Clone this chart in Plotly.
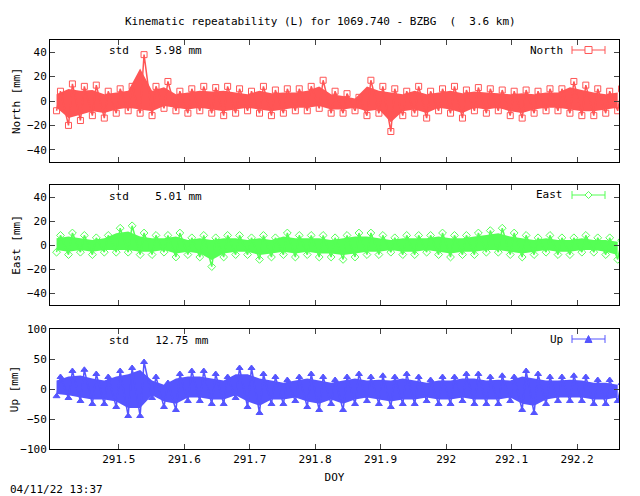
import numpy as np
import plotly.graph_objects as go

# envelope of each time bin (low / high), mm
north_hi = [8, 14, 12, 13, 8, 10, 12, 38, 12, 16, 8, 10, 12, 11, 12, 10, 8, 12, 9, 10, 10, 12, 17, 8,
            6, 3, 17, 12, 10, 8, 12, 8, 10, 12, 9, 11, 10, 9, 8, 9, 8, 10, 10, 16, 13, 10, 8, 10]
north_lo = [-8, -20, -16, -12, -14, -10, -8, -10, -12, -6, -8, -10, -8, -10, -12, -10, -8, -10, -12, -10, -8, -8, -6, -10,
            -10, -8, -12, -10, -25, -12, -10, -14, -8, -10, -14, -8, -10, -8, -12, -14, -10, -8, -8, -10, -12, -12, -10, -8]
east_hi = [8, 10, 8, 6, 8, 14, 16, 10, 8, 8, 10, 6, 8, 6, 8, 8, 6, 8, 6, 10, 8, 8, 8, 6,
           8, 10, 10, 8, 6, 8, 8, 8, 10, 8, 8, 10, 12, 14, 10, 8, 6, 8, 6, 6, 8, 6, 6, 4]
east_lo = [-6, -8, -6, -8, -6, -6, -6, -8, -8, -6, -10, -8, -10, -18, -10, -8, -8, -12, -10, -8, -10, -8, -10, -10,
           -12, -10, -8, -8, -6, -8, -8, -6, -8, -10, -8, -8, -6, -6, -8, -10, -8, -6, -8, -8, -6, -6, -8, -12]
up_hi = [20, 30, 32, 25, 20, 30, 35, 45, 20, 10, 25, 30, 30, 25, 20, 35, 35, 25, 20, 15, 20, 25, 20, 15,
         20, 25, 20, 22, 20, 25, 20, 15, 20, 20, 25, 25, 20, 22, 20, 30, 25, 20, 20, 22, 20, 15, 15, 10]
up_lo = [-12, -15, -20, -25, -25, -30, -45, -45, -15, -30, -35, -20, -20, -25, -25, -15, -30, -40, -25, -25, -20, -30, -35, -25,
         -35, -25, -20, -25, -30, -25, -25, -20, -25, -25, -20, -25, -25, -25, -20, -35, -40, -25, -20, -20, -20, -25, -25, -20]

doy = np.linspace(291.405, 292.262, len(north_hi))
x_ticks = [291.5, 291.6, 291.7, 291.8, 291.9, 292.0, 292.1, 292.2]
x_labels = ["291.5", "291.6", "291.7", "291.8", "291.9", "292", "292.1", "292.2"]

FONT = "DejaVu Sans Mono"
W, H, OFF = 640, 496, 8  # the page body adds an 8px margin


def px(x):
    return (x - OFF) / W


def py(y):
    return 1 - (y - OFF) / H


def zigzag(lo, hi):
    xs, ys = [], []
    for i in range(len(doy)):
        xs += [doy[i], doy[i] + 0.006]
        ys += [lo[i], hi[i]]
    return xs, ys


panels = [
    ("North", north_lo, north_hi, "#ff5555", "square-open", "5.98", (40, 162), [-50, 50], 20),
    ("East", east_lo, east_hi, "#55ff55", "diamond-open", "5.01", (185, 305), [-50, 50], 20),
    ("Up", up_lo, up_hi, "#5555ff", "triangle-up", "12.75", (329, 449), [-100, 100], 50),
]

fig = go.Figure()
for i, (name, lo, hi, col, sym, std, (ytop, ybot), yr, dt) in enumerate(panels):
    n = i + 1
    # solid band between the envelopes
    fig.add_trace(go.Scatter(
        x=list(doy) + list(doy[::-1]), y=[v * 0.7 for v in hi] + [v * 0.7 for v in lo[::-1]],
        fill="toself", fillcolor=col, mode="none", showlegend=False, hoverinfo="skip",
        xaxis="x" + str(n), yaxis="y" + str(n)))
    xs, ys = zigzag(lo, hi)
    fig.add_trace(go.Scatter(
        x=xs, y=ys, mode="lines+markers", name=name, showlegend=False,
        line=dict(color=col, width=1.5),
        marker=dict(symbol=sym, size=6, color=col, line=dict(color=col, width=1)),
        xaxis="x" + str(n), yaxis="y" + str(n)))
    ax = dict(domain=[px(50), px(619)], range=[291.395, 292.264], tickvals=x_ticks, ticktext=x_labels,
              ticks="inside", ticklen=5, mirror="ticks", showline=True, linecolor="black", linewidth=1,
              showgrid=False, zeroline=False, anchor="y" + str(n),
              showticklabels=(n == 3), tickfont=dict(family=FONT, size=11, color="black"))
    if n == 3:
        ax["title"] = dict(text="DOY", font=dict(family=FONT, size=11), standoff=8)
    ay = dict(domain=[py(ybot), py(ytop)], range=yr, dtick=dt, ticks="inside", ticklen=5, mirror="ticks",
              showline=True, linecolor="black", linewidth=1, showgrid=False, zeroline=False, anchor="x" + str(n),
              title=dict(text=name + " [mm]", font=dict(family=FONT, size=11), standoff=4),
              tickfont=dict(family=FONT, size=11, color="black"))
    fig.layout["xaxis" + str(n)] = ax
    fig.layout["yaxis" + str(n)] = ay
    fig.add_annotation(x=px(107), y=py(ytop + 11), xref="paper", yref="paper", xanchor="left", yanchor="middle",
                       text="std    " + std + " mm", showarrow=False, font=dict(family=FONT, size=11, color="black"))
    fig.add_annotation(x=px(565), y=py(ytop + 10), xref="paper", yref="paper", xanchor="right", yanchor="middle",
                       text=name, showarrow=False, font=dict(family=FONT, size=11, color="black"))
    ly = py(ytop + 10)
    x0, x1 = px(572), px(605)
    fig.add_shape(type="line", xref="paper", yref="paper", x0=x0, x1=x1, y0=ly, y1=ly, line=dict(color=col, width=1))
    for xe in (x0, x1):
        fig.add_shape(type="line", xref="paper", yref="paper", x0=xe, x1=xe, y0=ly - 0.008, y1=ly + 0.008,
                      line=dict(color=col, width=1))
    cx, w, h = px(588.5), 0.0055, 0.007
    if n == 1:
        fig.add_shape(type="rect", xref="paper", yref="paper", x0=cx - w, x1=cx + w, y0=ly - h, y1=ly + h,
                      line=dict(color=col, width=1), fillcolor="white")
    elif n == 2:
        fig.add_shape(type="path", xref="paper", yref="paper",
                      path=f"M {cx - w} {ly} L {cx} {ly + h} L {cx + w} {ly} L {cx} {ly - h} Z",
                      line=dict(color=col, width=1), fillcolor="white")
    else:
        fig.add_shape(type="path", xref="paper", yref="paper",
                      path=f"M {cx - w} {ly - h} L {cx} {ly + h} L {cx + w} {ly - h} Z",
                      line=dict(color=col, width=1), fillcolor=col)

fig.add_annotation(x=px(320), y=py(22), xref="paper", yref="paper", yanchor="middle",
                   text="Kinematic repeatability (L) for 1069.740 - BZBG  (  3.6 km)", showarrow=False,
                   font=dict(family=FONT, size=11, color="black"))
fig.add_annotation(x=0.0, y=py(489), xref="paper", yref="paper", xanchor="left", yanchor="middle",
                   text="04/11/22 13:37", showarrow=False, font=dict(family=FONT, size=11, color="black"))

fig.update_layout(width=W, height=H, margin=dict(l=0, r=0, t=0, b=0, autoexpand=False),
                  paper_bgcolor="white", plot_bgcolor="white",
                  font=dict(family=FONT, size=11, color="black"))

fig.write_html("out.html")
